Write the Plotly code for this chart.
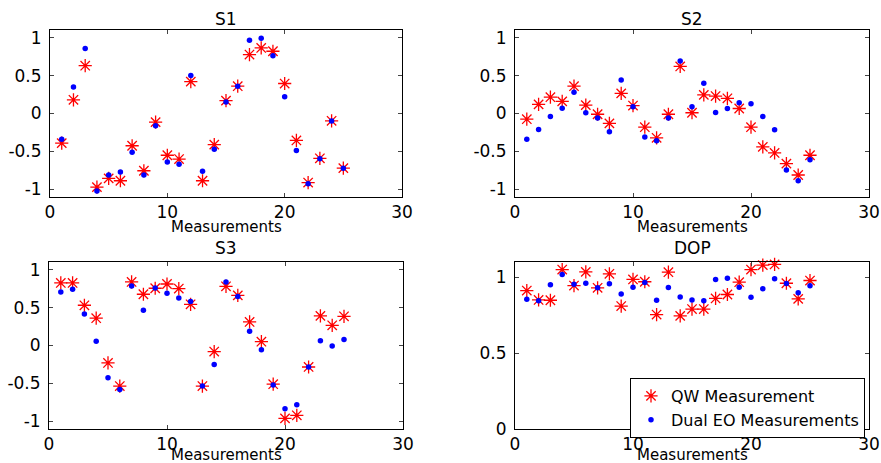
import plotly.graph_objects as go

x_meas = list(range(1, 26))

s1_qw = [-0.39, 0.18, 0.63, -0.97, -0.855, -0.886, -0.425, -0.754, -0.114, -0.55,
         -0.60, 0.42, -0.886, -0.41, 0.17, 0.36, 0.776, 0.864, 0.82, 0.395,
         -0.355, -0.91, -0.59, -0.096, -0.72]
s1_eo = [-0.34, 0.35, 0.855, -1.02, -0.81, -0.77, -0.51, -0.81, -0.16, -0.64,
         -0.67, 0.50, -0.76, -0.47, 0.15, 0.36, 0.965, 0.99, 0.76, 0.22,
         -0.487, -0.925, -0.596, -0.10, -0.72]

s2_qw = [-0.075, 0.12, 0.215, 0.16, 0.36, 0.11, -0.01, -0.13, 0.265, 0.105,
         -0.18, -0.32, -0.01, 0.62, 0.01, 0.245, 0.23, 0.20, 0.066, -0.18,
         -0.44, -0.52, -0.66, -0.81, -0.55]
s2_eo = [-0.34, -0.21, -0.04, 0.07, 0.28, 0.01, -0.06, -0.24, 0.44, 0.09,
         -0.31, -0.36, -0.06, 0.69, 0.09, 0.40, 0.013, 0.066, 0.14, 0.127,
         -0.04, -0.215, -0.745, -0.886, -0.61]

s3_qw = [0.824, 0.824, 0.53, 0.36, -0.23, -0.534, 0.837, 0.675, 0.754, 0.81,
         0.75, 0.543, -0.534, -0.08, 0.78, 0.66, 0.31, 0.05, -0.51, -0.96,
         -0.92, -0.283, 0.39, 0.266, 0.385]
s3_eo = [0.705, 0.74, 0.415, 0.055, -0.424, -0.58, 0.785, 0.464, 0.758, 0.688,
         0.626, 0.58, -0.534, -0.25, 0.837, 0.644, 0.187, -0.055, -0.52, -0.833,
         -0.78, -0.283, 0.064, -0.007, 0.08]

dop_qw = [0.912, 0.85, 0.848, 1.05, 0.945, 1.035, 0.93, 1.022, 0.81, 0.985,
          0.97, 0.754, 1.033, 0.745, 0.79, 0.79, 0.86, 0.886, 0.967, 1.05,
          1.08, 1.084, 0.96, 0.857, 0.978]
dop_eo = [0.855, 0.844, 0.95, 1.018, 0.954, 0.96, 0.93, 0.956, 0.89, 0.934,
          0.965, 0.848, 0.932, 0.87, 0.85, 0.844, 0.985, 0.993, 0.934, 0.868,
          0.923, 0.99, 0.958, 0.897, 0.943]

titles = ["S1", "S2", "S3", "DOP"]
x_title = "Measurements"
legend_names = ["QW Measurement", "Dual EO Measurements"]

x_ticks = [0, 10, 20, 30]
x_ticktext = ["0", "10", "20", "30"]
s_yticks = [-1, -0.5, 0, 0.5, 1]
s_yticktext = ["-1", "-0.5", "0", "0.5", "1"]
dop_yticks = [0, 0.5, 1]
dop_yticktext = ["0", "0.5", "1"]

W, H = 881, 463
FONT = "DejaVu Sans, Arial, sans-serif"

# pixel boxes (left, top, right, bottom)
boxes = [(50, 30, 402, 197), (515, 30, 869, 197), (49, 262, 403, 429), (515, 262, 869, 429)]
title_y = [19.5, 19.5, 248, 248]
xlab_y = [226.5, 226.5, 454.5, 454.5]

fig = go.Figure()
series = [(s1_qw, s1_eo), (s2_qw, s2_eo), (s3_qw, s3_eo), (dop_qw, dop_eo)]

layout = dict(
    width=W, height=H, margin=dict(l=0, r=0, t=0, b=0),
    paper_bgcolor="white", plot_bgcolor="white",
    font=dict(family=FONT, size=17, color="black"),
    showlegend=True,
)

annotations = []
for i, ((qw, eo), box) in enumerate(zip(series, boxes)):
    n = "" if i == 0 else str(i + 1)
    xa, ya = "x" + n, "y" + n
    l, t, r, b = box
    fig.add_trace(go.Scatter(
        x=x_meas, y=qw, mode="markers", name=legend_names[0], xaxis=xa, yaxis=ya,
        showlegend=(i == 3), cliponaxis=False,
        marker=dict(symbol="asterisk-open", size=11, color="red",
                    line=dict(color="red", width=1.3))))
    fig.add_trace(go.Scatter(
        x=x_meas, y=eo, mode="markers", name=legend_names[1], xaxis=xa, yaxis=ya,
        showlegend=(i == 3), cliponaxis=False,
        marker=dict(symbol="circle", size=5.5, color="blue", line=dict(width=0))))
    is_dop = (i == 3)
    layout["xaxis" + n] = dict(
        domain=[l / W, r / W], anchor=ya, range=[0, 30], automargin=False,
        tickvals=x_ticks, ticktext=x_ticktext, ticks="inside", ticklen=4,
        showline=True, linecolor="black", linewidth=1, mirror="ticks",
        showgrid=False, zeroline=False, tickfont=dict(size=17))
    layout["yaxis" + n] = dict(
        domain=[(H - b) / H, (H - t) / H], anchor=xa, automargin=False,
        range=[0, 1.1] if is_dop else [-1.1, 1.1],
        tickvals=dop_yticks if is_dop else s_yticks,
        ticktext=dop_yticktext if is_dop else s_yticktext,
        ticks="inside", ticklen=4, ticklabelstandoff=4,
        showline=True, linecolor="black", linewidth=1, mirror="ticks",
        showgrid=False, zeroline=False, tickfont=dict(size=17))
    cx = (l + r) / 2 / W
    annotations.append(dict(text=titles[i], x=cx, y=(H - title_y[i]) / H, xref="paper", yref="paper",
                            xanchor="center", yanchor="middle", showarrow=False,
                            font=dict(size=17)))
    annotations.append(dict(text=x_title, x=cx, y=(H - xlab_y[i]) / H, xref="paper", yref="paper",
                            xanchor="center", yanchor="middle", showarrow=False,
                            font=dict(size=15)))

layout["annotations"] = annotations
layout["legend"] = dict(
    x=865 / W, y=(H - 378) / H, xanchor="right", yanchor="top",
    bgcolor="white", bordercolor="black", borderwidth=1,
    font=dict(size=16), tracegroupgap=0, itemwidth=30)

fig.update_layout(**layout)
fig.write_html("out.html", config={"displayModeBar": False},
               post_script="document.body.style.margin='0';document.body.style.overflow='hidden';")
